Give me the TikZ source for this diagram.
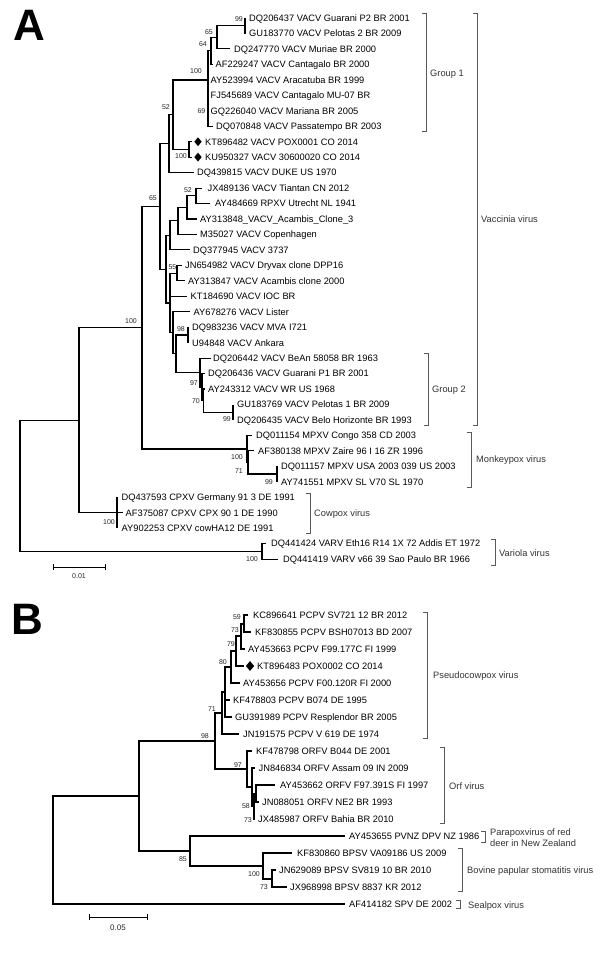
\documentclass[tikz,border=0pt]{standalone}
\usepackage{fontspec}
\setmainfont{Liberation Sans}
\usetikzlibrary{shapes.geometric}
\newcommand\lf[5]{\coordinate (#1) at (#2,#4); \node[lbl] (#1t) at (#3,#4) {#5};}
\newcommand\bs[4]{\node[bsl] (#1) at (#2,#3) {#4};}
\newcommand\kids[2]{\foreach \cn in {#2}{\draw (#1) |- (\cn);}}
\newcommand\brak[4]{\coordinate (#1t) at (#2,#3); \coordinate (#1b) at (#2,#4);
  \draw[brk] ([xshift=-4pt]#1t) -- (#1t) -- (#1b) -- ([xshift=-4pt]#1b);}
\begin{document}
\begin{tikzpicture}[x=1pt,y=-1pt,
  lbl/.style={anchor=west,inner sep=0pt,text height=6.6pt,text depth=0pt,font=\fontsize{9.3}{10}\selectfont},
  bsl/.style={anchor=east,inner sep=0pt,text height=5pt,text depth=0pt,font=\fontsize{7}{8}\selectfont,text=black!85},
  grp/.style={anchor=west,inner sep=0pt,text height=6.6pt,text depth=0pt,font=\fontsize{9.3}{10}\selectfont,text=black!80},
  brk/.style={draw=black!65,line width=0.8pt},
  dia/.style={diamond,fill=black,inner sep=0pt,minimum width=7.5pt,minimum height=9pt},
  treeA/.style={line width=1.1pt},
  treeB/.style={line width=2pt},
  sbar/.style={line width=0.9pt},
  big/.style={anchor=north west,inner sep=0pt,font=\fontsize{44}{44}\selectfont\bfseries}]
\useasboundingbox (0,0) rectangle (600,956);
\fill[white] (0,0) rectangle (600,956);

\node[big] (LA) at (13,10) {A};
\node[big] (LB) at (11,604) {B};

% ---------------- Panel A ----------------
\lf{a0}{245}{249}{18.0}{DQ206437 VACV Guarani P2 BR 2001}
\lf{a1}{245}{249}{33.5}{GU183770 VACV Pelotas 2 BR 2009}
\lf{a2}{230}{234}{48.9}{DQ247770 VACV Muriae BR 2000}
\lf{a3}{213}{215.5}{64.4}{AF229247 VACV Cantagalo BR 2000}
\lf{a4}{208}{210.5}{79.8}{AY523994 VACV Aracatuba BR 1999}
\lf{a5}{208}{210.5}{95.3}{FJ545689 VACV Cantagalo MU-07 BR}
\lf{a6}{208}{210.5}{110.8}{GQ226040 VACV Mariana BR 2005}
\lf{a7}{213}{216}{126.2}{DQ070848 VACV Passatempo BR 2003}
\lf{a8}{192}{205}{141.7}{KT896482 VACV POX0001 CO 2014}
\lf{a9}{192}{205}{157.1}{KU950327 VACV 30600020 CO 2014}
\lf{a10}{194}{197}{172.6}{DQ439815 VACV DUKE US 1970}
\lf{a11}{202}{207.5}{188.1}{JX489136 VACV Tiantan CN 2012}
\lf{a12}{210}{215}{203.5}{AY484669 RPXV Utrecht NL 1941}
\lf{a13}{197}{200}{219.0}{AY313848\_VACV\_Acambis\_Clone\_3}
\lf{a14}{197}{200}{234.4}{M35027 VACV Copenhagen}
\lf{a15}{190}{193}{249.9}{DQ377945 VACV 3737}
\lf{a16}{182}{185}{265.4}{JN654982 VACV Dryvax clone DPP16}
\lf{a17}{185}{188}{280.8}{AY313847 VACV Acambis clone 2000}
\lf{a18}{187}{190.5}{296.3}{KT184690 VACV IOC BR}
\lf{a19}{190}{193.5}{311.7}{AY678276 VACV Lister}
\lf{a20}{189}{192}{327.2}{DQ983236 VACV MVA I721}
\lf{a21}{189}{192}{342.7}{U94848 VACV Ankara}
\lf{a22}{211}{213}{358.1}{DQ206442 VACV BeAn 58058 BR 1963}
\lf{a23}{205}{208}{373.6}{DQ206436 VACV Guarani P1 BR 2001}
\lf{a24}{205}{208}{389.0}{AY243312 VACV WR US 1968}
\lf{a25}{233}{237}{404.5}{GU183769 VACV Pelotas 1 BR 2009}
\lf{a26}{233}{237}{420.0}{DQ206435 VACV Belo Horizonte BR 1993}
\lf{a27}{252}{256}{435.4}{DQ011154 MPXV Congo 358 CD 2003}
\lf{a28}{254}{258}{450.9}{AF380138 MPXV Zaire 96 I 16 ZR 1996}
\lf{a29}{277}{281}{466.3}{DQ011157 MPXV USA 2003 039 US 2003}
\lf{a30}{277}{281}{481.8}{AY741551 MPXV SL V70 SL 1970}
\lf{a31}{117}{121.5}{497.3}{DQ437593 CPXV Germany 91 3 DE 1991}
\lf{a32}{123}{125.5}{512.7}{AF375087 CPXV CPX 90 1 DE 1990}
\lf{a33}{117}{121.5}{528.2}{AY902253 CPXV cowHA12 DE 1991}
\lf{a34}{266}{271}{543.6}{DQ441424 VARV Eth16 R14 1X 72 Addis ET 1972}
\lf{a35}{278}{283}{559.1}{DQ441419 VARV v66 39 Sao Paulo BR 1966}

\node[dia] (da8) at (198,141.7) {};
\node[dia] (da9) at (198,157.1) {};

\coordinate (n99a) at (245,25.8);
\coordinate (n65a) at (217,37.3);
\coordinate (n64) at (211,50.9);
\coordinate (n69) at (208,118.5);
\coordinate (g1) at (208,80);
\coordinate (ndia) at (189,149.4);
\coordinate (n52a) at (173,114.7);
\coordinate (nX) at (169,143.7);
\coordinate (n52b) at (196,195.8);
\coordinate (p1) at (187,207.4);
\coordinate (p2) at (178,220.9);
\coordinate (p3) at (170,235.4);
\coordinate (n55) at (177,273.1);
\coordinate (n98a) at (188,335);
\coordinate (n99b) at (233,412.3);
\coordinate (n70) at (203.5,400.6);
\coordinate (n97) at (202,387.1);
\coordinate (g2) at (200,372.6);
\coordinate (l3) at (176,353.8);
\coordinate (l2) at (173,332.8);
\coordinate (l1) at (170,303);
\coordinate (l0) at (166,269.2);
\coordinate (vv) at (160,206.5);
\coordinate (n99c) at (277,474);
\coordinate (n71) at (248,462.6);
\coordinate (m100) at (247,449);
\coordinate (n65b) at (142,327.7);
\coordinate (c100) at (117,512.7);
\coordinate (nr) at (79,420.2);
\coordinate (v100) at (262,551.4);
\coordinate (rootA) at (20,485.8);

\begin{scope}[treeA]
\kids{n99a}{a0,a1}
\kids{n65a}{n99a,a2}
\kids{n64}{n65a,a3}
\kids{n69}{a6,a7}
\kids{g1}{n64,a4,a5,n69}
\kids{ndia}{a8,a9}
\kids{n52a}{g1,ndia}
\kids{nX}{n52a,a10}
\kids{n52b}{a11,a12}
\kids{p1}{n52b,a13}
\kids{p2}{p1,a14}
\kids{p3}{p2,a15}
\kids{n55}{a16,a17}
\kids{n98a}{a20,a21}
\kids{n99b}{a25,a26}
\kids{n70}{a24,n99b}
\kids{n97}{a23,n70}
\kids{g2}{a22,n97}
\kids{l3}{n98a,g2}
\kids{l2}{a19,l3}
\kids{l1}{n55,a18,l2}
\kids{l0}{p3,l1}
\kids{vv}{nX,l0}
\kids{n99c}{a29,a30}
\kids{n71}{a28,n99c}
\kids{m100}{a27,n71}
\kids{n65b}{vv,m100}
\kids{c100}{a31,a32,a33}
\kids{nr}{n65b,c100}
\kids{v100}{a34,a35}
\kids{rootA}{nr,v100}
\end{scope}

\bs{ba1}{243}{19}{99}
\bs{ba2}{213}{32}{65}
\bs{ba3}{207}{44}{64}
\bs{ba4}{202}{71}{100}
\bs{ba5}{205.5}{110.5}{69}
\bs{ba6}{170}{107}{52}
\bs{ba7}{187}{156}{100}
\bs{ba8}{157}{198}{65}
\bs{ba9}{192}{190}{52}
\bs{ba10}{176.5}{267}{55}
\bs{ba11}{137}{321}{100}
\bs{ba12}{185}{329}{98}
\bs{ba13}{198}{383}{97}
\bs{ba14}{200}{401}{70}
\bs{ba15}{231}{419}{99}
\bs{ba16}{243}{457}{100}
\bs{ba17}{243}{471}{71}
\bs{ba18}{273}{482}{99}
\bs{ba19}{115}{522}{100}
\bs{ba20}{258}{559}{100}

\coordinate (sa1) at (53,567); \coordinate (sa2) at (105,567);
\draw[sbar] (sa1) -- (sa2);
\draw[sbar] ([yshift=3pt]sa1) -- ([yshift=-3pt]sa1);
\draw[sbar] ([yshift=3pt]sa2) -- ([yshift=-3pt]sa2);
\node[bsl,anchor=center] (sal) at (79,576) {0.01};

\brak{kg1}{426}{13}{131}
\node[grp] (kg1l) at (430,73) {Group 1};
\brak{kvac}{477}{13}{425}
\node[grp] (kvacl) at (481,219) {Vaccinia virus};
\brak{kg2}{428}{353}{425}
\node[grp] (kg2l) at (432,389) {Group 2};
\brak{kmpx}{471}{432}{487}
\node[grp] (kmpxl) at (476,459) {Monkeypox virus};
\brak{kcpx}{310}{493}{533}
\node[grp] (kcpxl) at (314,513) {Cowpox virus};
\brak{kvar}{495}{539}{565}
\node[grp] (kvarl) at (499,553) {Variola virus};

% ---------------- Panel B ----------------
\lf{b0}{248}{253}{615}{KC896641 PCPV SV721 12 BR 2012}
\lf{b1}{251}{255}{632}{KF830855 PCPV BSH07013 BD 2007}
\lf{b2}{245}{248}{649}{AY453663 PCPV F99.177C FI 1999}
\lf{b3}{244}{257}{666}{KT896483 POX0002 CO 2014}
\lf{b4}{240}{243}{683}{AY453656 PCPV F00.120R FI 2000}
\lf{b5}{230}{233}{700}{KF478803 PCPV B074 DE 1995}
\lf{b6}{232}{235}{717}{GU391989 PCPV Resplendor BR 2005}
\lf{b7}{239}{243}{734}{JN191575 PCPV V 619 DE 1974}
\lf{b8}{252}{256}{751}{KF478798 ORFV B044 DE 2001}
\lf{b9}{255}{258.5}{768}{JN846834 ORFV Assam 09 IN 2009}
\lf{b10}{275}{280}{785}{AY453662 ORFV F97.391S FI 1997}
\lf{b11}{259}{262}{802}{JN088051 ORFV NE2 BR 1993}
\lf{b12}{255}{258}{819}{JX485987 ORFV Bahia BR 2010}
\lf{b13}{345}{349}{836}{AY453655 PVNZ DPV NZ 1986}
\lf{b14}{292}{297}{853}{KF830860 BPSV VA09186 US 2009}
\lf{b15}{276}{279}{870}{JN629089 BPSV SV819 10 BR 2010}
\lf{b16}{287}{290}{887}{JX968998 BPSV 8837 KR 2012}
\lf{b17}{345}{349}{904}{AF414182 SPV DE 2002}

\node[dia,minimum width=8.5pt,minimum height=10pt] (db3) at (250,666) {};

\coordinate (n59) at (244,623.5);
\coordinate (n73a) at (240.5,636.3);
\coordinate (n79) at (236,651.1);
\coordinate (n80) at (231,667);
\coordinate (nq) at (225,692);
\coordinate (n71b) at (222,713);
\coordinate (n98b) at (215,741);
\coordinate (n97b) at (247,769);
\coordinate (nw) at (252,787);
\coordinate (nz) at (253.5,806.3);
\coordinate (n58) at (255.5,793.5);
\coordinate (n139) at (139,795.9);
\coordinate (n85) at (190,850.8);
\coordinate (n100b) at (263,865.8);
\coordinate (n73c) at (272,878.5);
\coordinate (rootB) at (53,850);

\begin{scope}[treeB]
\kids{n59}{b0,b1}
\kids{n73a}{n59,b2}
\kids{n79}{n73a,b3}
\kids{n80}{n79,b4}
\kids{nq}{n80,b5,b6}
\kids{n71b}{nq,b7}
\kids{n98b}{n71b,n97b}
\kids{n97b}{b8,nw}
\kids{nw}{b9,nz}
\kids{nz}{n58,b12}
\kids{n58}{b10,b11}
\kids{n139}{n98b,n85}
\kids{n85}{b13,n100b}
\kids{n100b}{b14,n73c}
\kids{n73c}{b15,b16}
\kids{rootB}{n139,b17}
\end{scope}

\bs{bb1}{241}{617}{59}
\bs{bb2}{239}{630}{73}
\bs{bb3}{235}{644}{79}
\bs{bb4}{227}{662}{80}
\bs{bb5}{216}{709}{71}
\bs{bb6}{209}{736}{98}
\bs{bb7}{242}{765}{97}
\bs{bb8}{250}{806}{58}
\bs{bb9}{252}{820}{73}
\bs{bb10}{187}{859}{85}
\bs{bb11}{260}{874}{100}
\bs{bb12}{268}{887}{73}

\coordinate (sb1) at (89,917); \coordinate (sb2) at (147,917);
\draw[sbar] (sb1) -- (sb2);
\draw[sbar] ([yshift=3pt]sb1) -- ([yshift=-3pt]sb1);
\draw[sbar] ([yshift=3pt]sb2) -- ([yshift=-3pt]sb2);
\node[bsl,anchor=center,font=\fontsize{8}{9}\selectfont] (sbl) at (118,928) {0.05};

\brak{kpc}{427}{612}{738}
\node[grp] (kpcl) at (433,675) {Pseudocowpox virus};
\brak{korf}{444}{747}{823}
\node[grp] (korfl) at (449,786) {Orf virus};
\brak{kpv}{485}{831}{842}
\node[grp] (kpvl1) at (490,832) {Parapoxvirus of red};
\node[grp] (kpvl2) at (490,843) {deer in New Zealand};
\brak{kbp}{462}{848}{891}
\node[grp] (kbpl) at (467,870) {Bovine papular stomatitis virus};
\brak{ksp}{460}{900}{908}
\node[grp] (kspl) at (468,905) {Sealpox virus};
\end{tikzpicture}
\end{document}
